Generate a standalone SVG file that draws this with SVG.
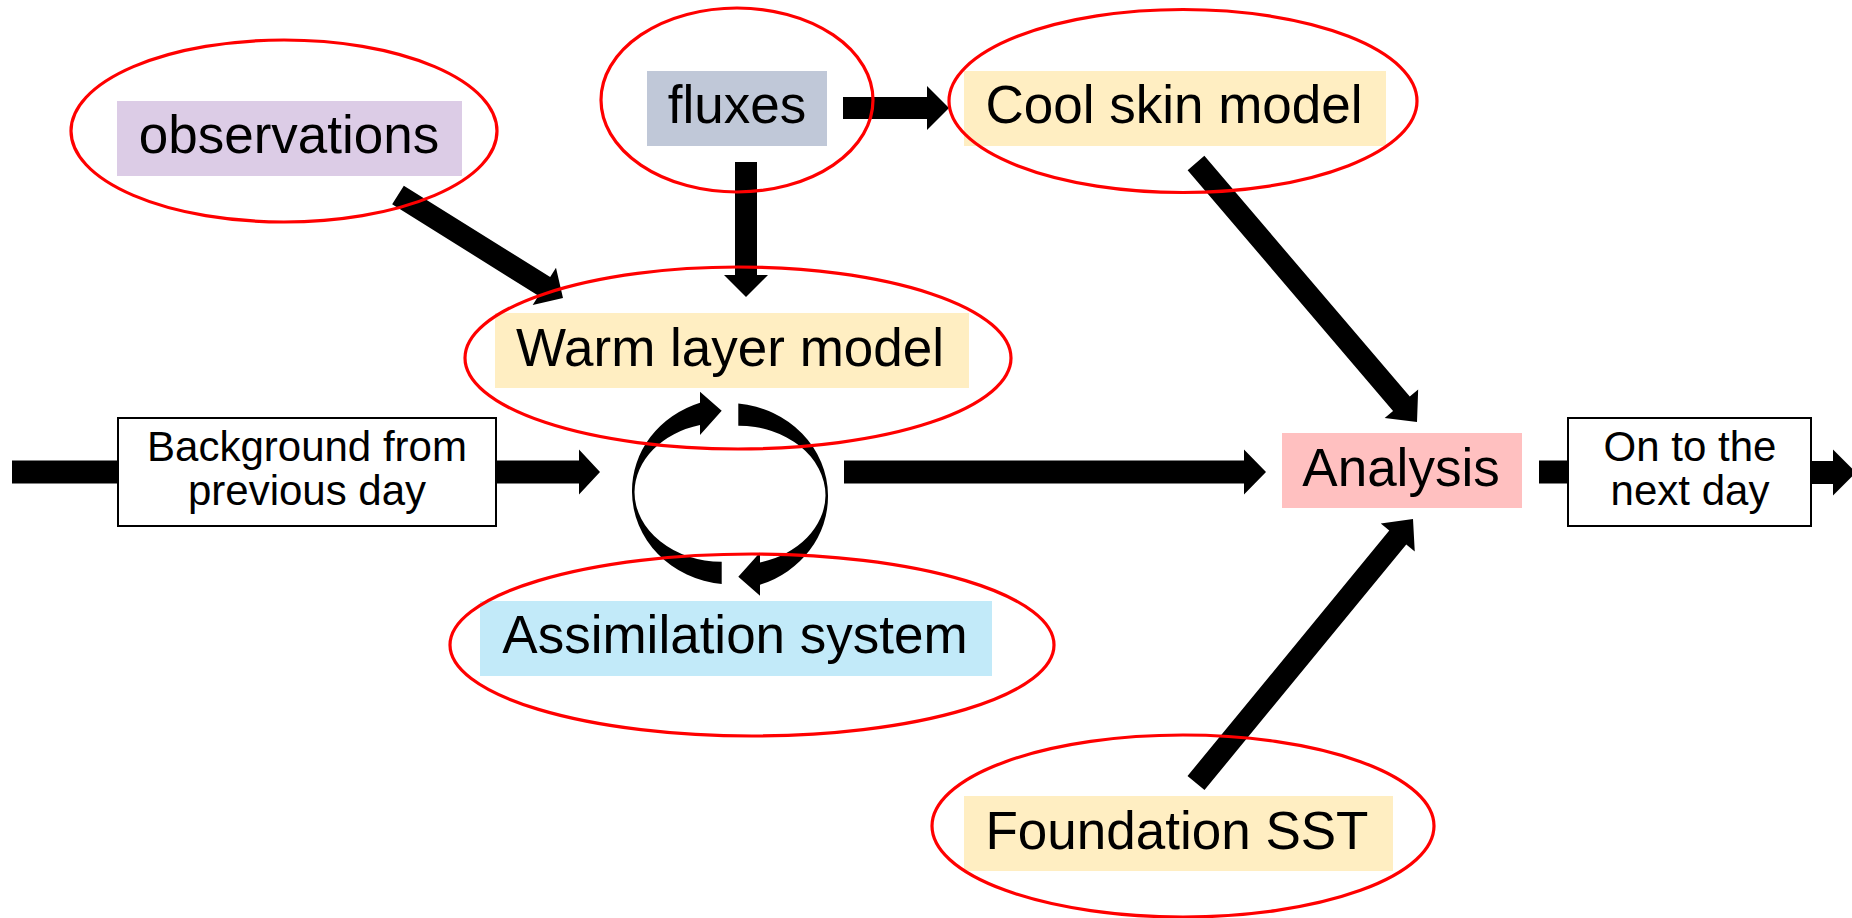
<svg xmlns="http://www.w3.org/2000/svg" width="1852" height="918" viewBox="0 0 1852 918">
<style>
.lbl{font-family:"Liberation Sans",Arial,sans-serif;font-size:53px;fill:#000;text-anchor:middle}
.sm{font-family:"Liberation Sans",Arial,sans-serif;font-size:42px;fill:#000;text-anchor:middle}
.ring{fill:none;stroke:#FF0000;stroke-width:3.2}
.arr{fill:#000;stroke:none}
.wbox{fill:#fff;stroke:#000;stroke-width:2}
</style>
<defs>
<path id="cyc" d="M721.7,584 A100,93 0 0 1 632,492 A100,93 0 0 1 700,402.7 L700,391.7 L721.7,410.7 L700,435 L700,425 A87,70 0 0 0 634.5,492 A87,70 0 0 0 721.7,561.7 Z"/>
</defs>
<rect width="1852" height="918" fill="#fff"/>
<g id="connectors">
<rect class="arr" x="12" y="460.5" width="108" height="23"/>
<polygon class="arr" points="494,460.5 579,460.5 579,449.5 600,472 579,494.5 579,483.5 494,483.5"/>
<polygon class="arr" points="844,460.5 1244,460.5 1244,449.5 1266,472 1244,494.5 1244,483.5 844,483.5"/>
<rect class="arr" x="1539" y="460.5" width="31" height="23"/>
<polygon class="arr" points="1810,461 1833,461 1833,449.5 1856,472.5 1833,495.5 1833,484 1810,484"/>
<polygon class="arr" points="843,97 927,97 927,86 949,108 927,130 927,119 843,119"/>
<polygon class="arr" points="735,162 757,162 757,275 768,275 746,297 724,275 735,275"/>
<polygon class="arr" points="392.17,204.33 538.51,295.68 532.69,305.01 563,298 555.99,267.69 550.17,277.02 403.83,185.67"/>
<polygon class="arr" points="1187.63,170.14 1393.05,410.88 1384.68,418.02 1417,422 1418.16,389.46 1409.79,396.6 1204.37,155.86"/>
<polygon class="arr" points="1204.5,789.99 1406.26,544.53 1414.76,551.51 1413,519 1380.76,523.57 1389.26,530.55 1187.5,776.01"/>
<use href="#cyc" class="arr"/>
<use href="#cyc" class="arr" transform="rotate(180 730 493.7)"/>
</g>
<g id="observations">
<rect x="117" y="101" width="345" height="75" fill="#DCCCE6"/>
<text class="lbl" x="289" y="153">observations</text>
<ellipse class="ring" cx="284" cy="131" rx="213" ry="91"/>
</g>
<g id="fluxes">
<rect x="647" y="71" width="180" height="75" fill="#C0C8D8"/>
<text class="lbl" x="737" y="123">fluxes</text>
<ellipse class="ring" cx="737" cy="100" rx="136" ry="92"/>
</g>
<g id="cool-skin">
<rect x="964" y="71" width="422" height="75" fill="#FFEEC2"/>
<text class="lbl" x="1174" y="123">Cool skin model</text>
<ellipse class="ring" cx="1183" cy="101" rx="234" ry="91.5"/>
</g>
<g id="warm-layer">
<rect x="495" y="313" width="474" height="75" fill="#FFEEC2"/>
<text class="lbl" x="730" y="366">Warm layer model</text>
<ellipse class="ring" cx="738" cy="358" rx="273" ry="91"/>
</g>
<g id="assimilation">
<rect x="480" y="601" width="512" height="75" fill="#C2EAF9"/>
<text class="lbl" x="735" y="653">Assimilation system</text>
<ellipse class="ring" cx="752" cy="645" rx="302" ry="91"/>
</g>
<g id="foundation">
<rect x="964" y="796" width="429" height="75" fill="#FFEEC2"/>
<text class="lbl" x="1177" y="849">Foundation SST</text>
<ellipse class="ring" cx="1183" cy="826" rx="251" ry="91"/>
</g>
<g id="background">
<rect class="wbox" x="118" y="418" width="378" height="108"/>
<text class="sm" x="307" y="461">Background from</text>
<text class="sm" x="307" y="505">previous day</text>
</g>
<g id="analysis">
<rect x="1282" y="433" width="240" height="75" fill="#FFC0C0"/>
<text class="lbl" x="1401" y="486">Analysis</text>
</g>
<g id="next-day">
<rect class="wbox" x="1568" y="418" width="243" height="108"/>
<text class="sm" x="1690" y="461">On to the</text>
<text class="sm" x="1690" y="505">next day</text>
</g>
</svg>
